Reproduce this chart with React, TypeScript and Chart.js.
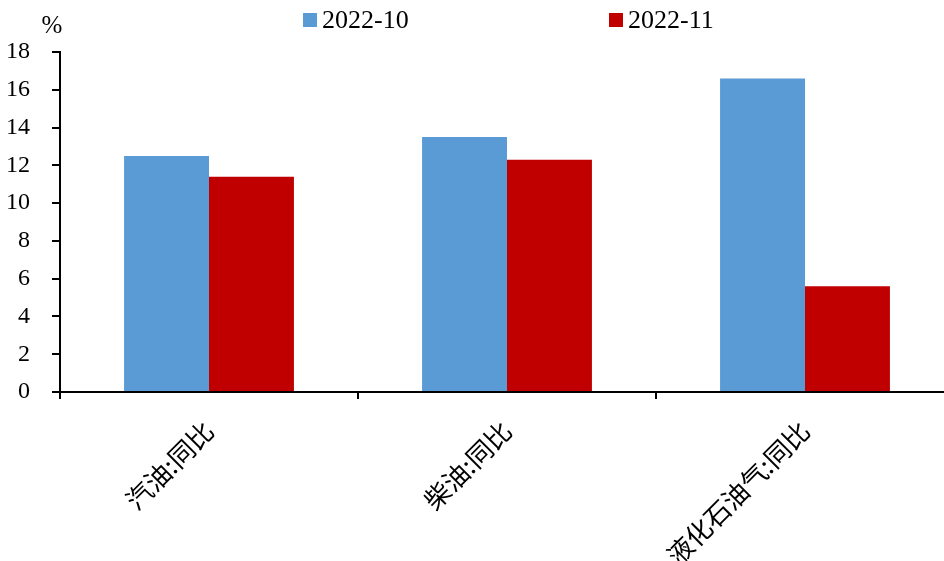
import React, { useEffect, useRef } from "react";
import { Chart, registerables } from "chart.js";

Chart.register(...registerables);

const categories = ["汽油:同比", "柴油:同比", "液化石油气:同比"];
const seriesNames = ["2022-10", "2022-11"];
const series2022_10 = [12.5, 13.5, 16.6];
const series2022_11 = [11.4, 12.3, 5.6];
const yTicks = [0, 2, 4, 6, 8, 10, 12, 14, 16, 18];
const colors = ["#5B9BD5", "#C00000"];
const unitLabel = "%";

const overlayPlugin = {
  id: "overlay",
  afterDraw(chart: any) {
    const { ctx, chartArea } = chart;
    const center = (chartArea.left + chartArea.right) / 2;
    ctx.save();
    // unit label
    ctx.fillStyle = "#000";
    ctx.font = "25px 'Liberation Serif'";
    ctx.textAlign = "center";
    ctx.textBaseline = "middle";
    ctx.fillText(unitLabel, chartArea.left - 8, 26);
    // legend
    const items = [
      { x: center - 204, color: colors[0], text: seriesNames[0] },
      { x: center + 102, color: colors[1], text: seriesNames[1] },
    ];
    ctx.font = "26px 'Liberation Serif'";
    ctx.textAlign = "left";
    items.forEach((it) => {
      ctx.fillStyle = it.color;
      ctx.fillRect(it.x, 13, 14, 14);
      ctx.fillStyle = "#000";
      ctx.fillText(it.text, it.x + 19, 21);
    });
    ctx.restore();
  },
};

export default function App() {
  const ref = useRef<HTMLCanvasElement | null>(null);
  useEffect(() => {
    if (!ref.current) return;
    const chart = new Chart(ref.current, {
      type: "bar",
      data: {
        labels: categories,
        datasets: [
          {
            label: seriesNames[0],
            data: series2022_10,
            backgroundColor: colors[0],
            borderWidth: 0,
            categoryPercentage: 0.57,
            barPercentage: 1.0,
          },
          {
            label: seriesNames[1],
            data: series2022_11,
            backgroundColor: colors[1],
            borderWidth: 0,
            categoryPercentage: 0.57,
            barPercentage: 1.0,
          },
        ],
      },
      options: {
        responsive: false,
        animation: false,
        layout: { padding: { top: 52, right: 6, left: 0, bottom: 0 } },
        plugins: {
          legend: { display: false },
          tooltip: { enabled: false },
        },
        scales: {
          x: {
            type: "category",
            offset: true,
            grid: {
              display: true,
              offset: true,
              drawOnChartArea: false,
              drawTicks: true,
              tickLength: 7,
              color: "#000",
              lineWidth: 2,
            },
            border: { display: true, color: "#000", width: 2 },
            ticks: {
              autoSkip: false,
              minRotation: 45,
              maxRotation: 45,
              padding: 16,
              color: "#000",
              font: { family: "'Noto Sans CJK SC'", size: 26 },
            },
            afterFit: (s: any) => {
              s.height = 169;
            },
          },
          y: {
            min: 0,
            max: 18,
            afterBuildTicks: (s: any) => {
              s.ticks = yTicks.map((v) => ({ value: v }));
            },
            grid: {
              display: true,
              drawOnChartArea: false,
              drawTicks: true,
              tickLength: 8,
              color: "#000",
              lineWidth: 2,
            },
            border: { display: true, color: "#000", width: 2 },
            ticks: {
              padding: 22,
              color: "#000",
              font: { family: "'Liberation Serif'", size: 24 },
            },
            afterFit: (s: any) => {
              s.width = 60;
            },
          },
        },
      },
      plugins: [overlayPlugin],
    });
    return () => chart.destroy();
  }, []);
  return (
    <div
      style={{
        position: "fixed",
        left: 0,
        top: 0,
        width: 944,
        height: 561,
        overflow: "hidden",
        background: "#fff",
      }}
    >
      <canvas ref={ref} width={960} height={561} style={{ width: 960, height: 561, display: "block" }} />
    </div>
  );
}
